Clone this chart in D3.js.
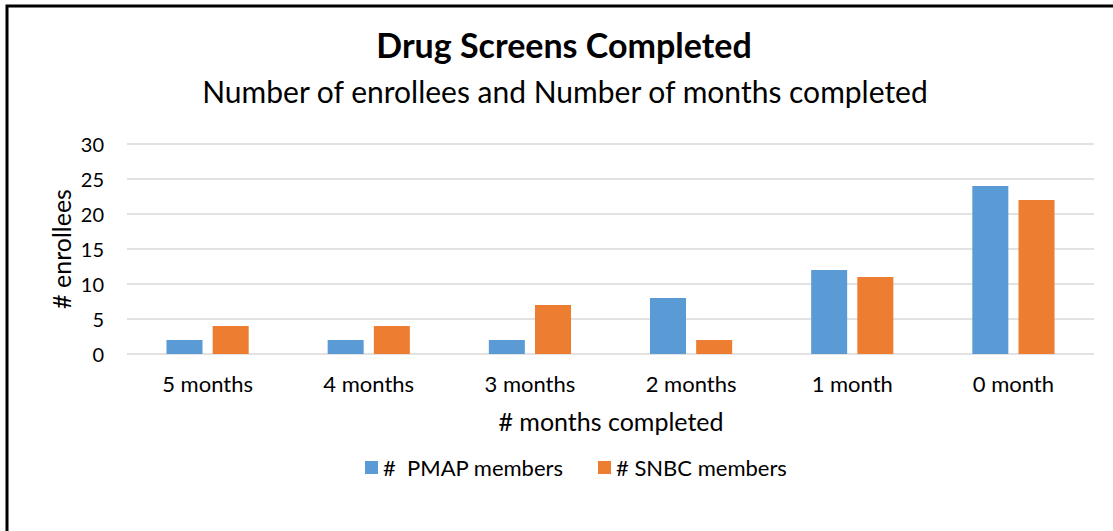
<!DOCTYPE html>
<html><head><meta charset="utf-8">
<script src="https://cdn.jsdelivr.net/npm/d3@7/dist/d3.min.js"></script>
<style>body{margin:0;background:#fff;} svg{display:block;font-family:Lato,"Open Sans",sans-serif;} text{white-space:pre;}</style>
</head><body>
<svg id="c" width="1113" height="531"></svg>
<script>
const categories = ["5 months","4 months","3 months","2 months","1 month","0 month"];
const pmapValues = [2,2,2,8,12,24];
const snbcValues = [4,4,7,2,11,22];
const seriesNames = ["#  PMAP members","# SNBC members"];
const seriesColors = ["#5B9BD5","#ED7D31"];
const yTicks = [0,5,10,15,20,25,30];

const svg = d3.select("#c");
// border
svg.append("rect").attr("x",7).attr("y",6).attr("width",1200).attr("height",600)
  .attr("fill","none").attr("stroke","#000").attr("stroke-width",3);

const x0 = d3.scaleBand().domain(categories).range([127,1094]).paddingInner(0.49).paddingOuter(0.245);
const x1 = d3.scaleBand().domain([0,1]).range([0,x0.bandwidth()]).paddingInner(0.22);
const y = d3.scaleLinear().domain([0,30]).range([354,144]);

// gridlines
svg.append("g").selectAll("line").data(yTicks).join("line")
  .attr("x1",127).attr("x2",1094).attr("y1",d=>y(d)).attr("y2",d=>y(d))
  .attr("stroke","#D9D9D9").attr("stroke-width",1.3);

const data = categories.map((c,i)=>({c, v:[pmapValues[i], snbcValues[i]]}));
const g = svg.append("g");
data.forEach(d=>{
  d.v.forEach((v,j)=>{
    g.append("rect").attr("x",x0(d.c)+x1(j)).attr("width",x1.bandwidth())
      .attr("y",y(v)).attr("height",y(0)-y(v)).attr("fill",seriesColors[j]);
  });
});

// y axis labels
const yAxis = d3.axisLeft(y).tickValues(yTicks).tickSize(0).tickPadding(0);
const ya = svg.append("g").attr("transform","translate(104,0)").call(yAxis);
ya.select(".domain").remove();
ya.selectAll("text").attr("font-size",20).attr("font-family","Lato").attr("fill","#000").attr("dy","0.36em");

// x axis labels
const xAxis = d3.axisBottom(x0).tickSize(0).tickPadding(0);
const xa = svg.append("g").attr("transform","translate(0,392)").call(xAxis);
xa.select(".domain").remove();
xa.selectAll("text").attr("font-size",22).attr("font-family","Lato").attr("fill","#000").attr("y",0).attr("dy","0");

// titles
svg.append("text").attr("x",564).attr("y",58).attr("text-anchor","middle")
  .attr("font-size",34).attr("font-weight","bold").text("Drug Screens Completed");
svg.append("text").attr("x",565).attr("y",103).attr("text-anchor","middle")
  .attr("font-size",30).text("Number of enrollees and Number of months completed");
svg.append("text").attr("x",611).attr("y",431).attr("text-anchor","middle")
  .attr("font-size",25).text("# months completed");
svg.append("text").attr("transform","translate(71,249) rotate(-90)").attr("text-anchor","middle")
  .attr("font-size",25).text("# enrollees");

// legend
const legX = [365, 598];
seriesNames.forEach((n,i)=>{
  svg.append("rect").attr("x",legX[i]).attr("y",461).attr("width",13).attr("height",13).attr("fill",seriesColors[i]);
  svg.append("text").attr("x",legX[i]+18).attr("y",476).attr("font-size",22).text(n);
});
</script>
</body></html>
